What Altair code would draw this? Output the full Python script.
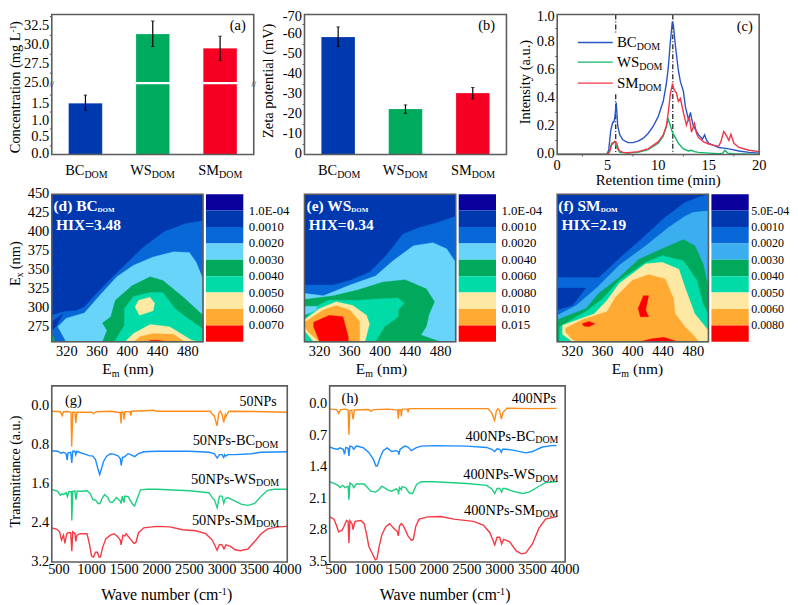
import altair as alt
import pandas as pd

# ---------------- data ----------------
CATS = ["BC", "WS", "SM"]
BAR_COLORS = ["#0038b0", "#00aa5e", "#f50023"]
CONC = [1.51, 31.43, 29.54]
CONC_LO = [1.30, 29.78, 27.93]
CONC_HI = [1.75, 33.16, 31.14]
ZETA = [-58.8, -22.8, -30.7]
ZETA_LO = [-54.0, -20.6, -27.8]
ZETA_HI = [-63.8, -24.8, -33.5]

C_BC = [(0,0),(4.9,0),(5.1,.03),(5.3,.17),(5.5,.23),(5.6,.23),(5.7,.26),(5.85,.37),(6,.2),(6.2,.14),(6.5,.105),(7,.085),(7.5,.085),(8,.095),(8.5,.115),(9,.15),(9.5,.2),(10,.27),(10.5,.38),(10.8,.5),(11,.62),(11.2,.8),(11.4,.95),(11.5,.93),(11.7,.78),(12,.6),(12.2,.52),(12.5,.45),(12.7,.34),(13,.25),(13.2,.3),(13.3,.26),(13.5,.2),(14,.14),(14.4,.11),(14.6,.14),(14.8,.1),(15,.08),(15.5,.065),(16,.05),(16.5,.045),(17,.04),(18,.025),(19,.015),(20,.01)]
C_WS = [(0,0),(5,0),(5.2,.03),(5.4,.08),(5.7,.09),(5.9,.05),(6.2,.015),(7,.01),(8,.015),(9,.035),(10,.08),(10.5,.13),(10.8,.2),(11,.25),(11.1,.23),(11.4,.16),(11.7,.12),(12,.08),(12.5,.04),(13,.025),(13.3,.03),(13.6,.02),(14,.015),(15,.01),(16,.005),(16.4,.01),(16.6,.03),(16.9,.01),(17.5,.005),(20,0)]
C_SM = [(0,0),(5,0),(5.2,.02),(5.4,.07),(5.7,.095),(5.9,.08),(6.1,.03),(6.5,.015),(7,.012),(8,.02),(9,.04),(10,.09),(10.5,.14),(10.8,.2),(11,.3),(11.2,.43),(11.4,.5),(11.6,.46),(11.8,.44),(12,.38),(12.2,.4),(12.5,.3),(12.8,.21),(13,.26),(13.1,.26),(13.3,.16),(13.6,.22),(13.8,.15),(14,.12),(14.5,.09),(15,.075),(15.5,.065),(16,.06),(16.2,.09),(16.5,.165),(16.8,.13),(17,.1),(17.2,.145),(17.5,.08),(18,.05),(19,.03),(20,.02)]

G_OR = [(390,.11),(520,.12),(550,.2),(570,.12),(620,.115),(660,.12),(685,.14),(695,.83),(712,.13),(745,.13),(758,.35),(775,.13),(1000,.13),(1030,.16),(1070,.12),(1300,.11),(1440,.14),(1452,.36),(1465,.12),(1490,.14),(1497,.28),(1510,.12),(1590,.12),(1602,.2),(1615,.11),(1800,.1),(1950,.09),(2000,.11),(2500,.11),(2820,.11),(2850,.17),(2880,.2),(2923,.41),(2950,.15),(2975,.11),(3000,.17),(3026,.34),(3050,.18),(3060,.22),(3085,.15),(3110,.11),(3500,.115),(4000,.13)]
G_BL = [(390,.92),(480,.93),(530,.97),(570,.95),(610,.98),(625,1.11),(640,.96),(680,.95),(697,1.17),(712,.93),(745,.93),(758,1.0),(775,.93),(830,.96),(900,.99),(960,1.02),(1020,1.03),(1060,1.1),(1100,1.3),(1125,1.41),(1150,1.3),(1180,1.15),(1230,1.03),(1290,.98),(1330,.99),(1400,1.02),(1440,1.08),(1455,1.22),(1475,1.05),(1500,1.05),(1560,.98),(1600,1.0),(1660,1.04),(1720,.98),(1800,.94),(2000,.93),(2500,.93),(2800,.95),(2880,.98),(2925,1.07),(2960,1.0),(3000,1.0),(3026,1.06),(3040,1.0),(3060,1.03),(3090,1.0),(3200,1.0),(3450,.98),(3600,.95),(4000,.94)]
G_GR = [(390,1.71),(480,1.75),(520,1.83),(545,1.8),(570,1.82),(610,1.78),(630,1.86),(650,1.76),(690,1.76),(697,2.35),(712,1.75),(745,1.74),(760,1.92),(780,1.75),(850,1.75),(930,1.74),(980,1.8),(1020,1.92),(1060,1.93),(1100,2.0),(1130,2.0),(1160,1.9),(1200,1.82),(1250,1.88),(1280,1.97),(1320,1.98),(1380,1.88),(1420,1.93),(1440,1.95),(1453,2.0),(1470,1.85),(1497,1.98),(1510,1.85),(1560,1.86),(1620,2.0),(1660,2.05),(1700,1.9),(1750,1.72),(1850,1.71),(2000,1.71),(2500,1.74),(2800,1.78),(2850,1.88),(2885,1.93),(2925,2.09),(2960,1.85),(3000,1.85),(3026,2.0),(3050,1.9),(3090,1.88),(3200,1.95),(3300,2.02),(3400,2.04),(3500,2.0),(3600,1.85),(3700,1.73),(3800,1.71),(4000,1.71)]
G_RD = [(390,2.5),(470,2.53),(510,2.58),(540,2.75),(570,2.65),(590,2.82),(620,2.62),(640,2.6),(680,2.6),(697,2.98),(712,2.58),(745,2.62),(758,2.78),(775,2.65),(830,2.62),(930,2.62),(970,2.85),(1000,3.08),(1030,3.1),(1060,3.0),(1090,3.0),(1115,3.1),(1135,3.1),(1170,2.9),(1220,2.72),(1290,2.65),(1350,2.62),(1400,2.68),(1440,2.75),(1453,2.85),(1480,2.65),(1510,2.67),(1530,2.62),(1590,2.72),(1650,2.82),(1680,2.8),(1720,2.6),(1800,2.5),(2000,2.47),(2200,2.48),(2400,2.54),(2600,2.56),(2750,2.62),(2850,2.75),(2925,2.96),(2960,2.84),(3000,2.85),(3030,2.93),(3060,2.85),(3130,2.88),(3200,2.95),(3280,2.97),(3400,2.93),(3500,2.78),(3600,2.62),(3700,2.52),(3850,2.48),(4000,2.47)]

H_OR = [(403,.11),(510,.12),(540,.2),(570,.12),(650,.11),(685,.13),(697,.68),(712,.14),(740,.13),(760,.34),(780,.13),(1000,.12),(1030,.16),(1070,.12),(1300,.11),(1440,.13),(1452,.32),(1465,.12),(1490,.13),(1497,.27),(1510,.11),(1590,.11),(1600,.18),(1615,.1),(1800,.1),(2500,.1),(2820,.1),(2860,.16),(2880,.2),(2923,.36),(2950,.15),(2975,.1),(3000,.15),(3026,.33),(3050,.18),(3085,.13),(3110,.09),(3500,.1),(4000,.09)]
H_BL = [(403,.95),(480,.99),(530,1.0),(560,.97),(610,1.0),(630,1.11),(650,.96),(685,.98),(697,1.15),(712,.93),(745,.94),(770,1.0),(810,.93),(850,.94),(920,.97),(1000,1.07),(1070,1.22),(1110,1.37),(1130,1.37),(1170,1.2),(1220,1.03),(1280,.97),(1350,1.05),(1420,1.03),(1450,1.05),(1460,1.12),(1480,1.0),(1550,.93),(1600,.95),(1650,1.03),(1720,.97),(1800,.93),(2000,.92),(2500,.93),(2800,.96),(2880,1.0),(2925,1.05),(2960,.99),(3000,1.0),(3026,1.07),(3045,1.0),(3090,1.0),(3200,1.02),(3400,1.08),(3500,1.05),(3650,.95),(3800,.92),(4000,.91)]
H_GR = [(403,1.72),(480,1.76),(530,1.8),(560,1.85),(600,1.8),(640,1.85),(685,1.82),(697,2.12),(712,1.75),(745,1.78),(770,1.85),(810,1.77),(930,1.77),(980,1.85),(1030,1.93),(1100,1.95),(1140,1.92),(1200,1.82),(1290,1.9),(1350,1.93),(1420,1.88),(1450,1.92),(1455,2.0),(1470,1.85),(1497,1.9),(1510,1.83),(1560,1.85),(1620,1.97),(1670,1.98),(1730,1.78),(1800,1.72),(2000,1.72),(2500,1.76),(2800,1.8),(2880,1.88),(2925,1.98),(2960,1.87),(3000,1.87),(3030,1.95),(3050,1.87),(3090,1.87),(3200,1.93),(3350,1.98),(3450,1.95),(3600,1.82),(3700,1.74),(3850,1.72),(4000,1.72)]
H_RD = [(403,2.5),(470,2.55),(510,2.7),(540,2.83),(590,2.8),(620,2.72),(660,2.58),(685,2.6),(697,3.08),(712,2.58),(745,2.65),(760,2.78),(790,2.6),(880,2.58),(930,2.65),(970,2.9),(1000,3.15),(1050,3.3),(1100,3.45),(1125,3.43),(1160,3.15),(1200,2.9),(1260,2.72),(1320,2.65),(1380,2.75),(1440,2.83),(1452,2.92),(1470,2.7),(1500,2.65),(1530,2.7),(1600,2.92),(1650,3.02),(1680,3.0),(1720,2.7),(1770,2.55),(1900,2.5),(2100,2.49),(2300,2.55),(2600,2.6),(2750,2.68),(2850,2.85),(2925,3.12),(2960,2.95),(3000,2.95),(3030,3.1),(3060,3.0),(3150,3.05),(3250,3.25),(3330,3.32),(3400,3.3),(3500,3.1),(3600,2.75),(3700,2.55),(3850,2.5),(4000,2.48)]

L0, L1, L2, L3, L4, L5, L6, L7, L8 = "#0a009c", "#0038b0", "#0868d8", "#68d4fa", "#00a95c", "#00dba8", "#fde9a4", "#ffab33", "#ff0000"
L3F = "#3aaeee"
BAND_D = [L0, L1, L2, L3, L4, L5, L6, L7, L8]
BAND_F = [L0, L1, L2, L3F, L4, L5, L6, L7, L8]
LABELS_D = ["1.0E-04","0.0010","0.0020","0.0030","0.0040","0.0050","0.0060","0.0070"]
LABELS_E = ["1.0E-04","0.0010","0.0020","0.0040","0.0060","0.0080","0.010","0.015"]
LABELS_F = ["5.0E-04","0.0010","0.0020","0.0030","0.0040","0.0050","0.0060","0.0080"]

POLY_D = [
 (L2, [(300,290),(317,295),(332,296),(343,301),(365,325),(391,351),(421,380),(448,400),(476,411),(500,415),(500,255),(300,255)]),
 (L1, [(300,282),(315,292),(306,276),(300,270)]),
 (L4, [(300,262),(303,262),(304,255),(300,255)]),
 (L3, [(308,275),(319,286),(343,293),(365,318),(386,341),(408,356),(434,367),(461,374),(482,373),(491,360),(500,338),(500,255),(319,255)]),
 (L4, [(367,280),(378,288),(384,310),(406,329),(430,341),(447,336),(474,314),(500,290),(500,255),(367,255),(373,270)]),
 (L5, [(384,257),(396,277),(396,299),(408,315),(430,320),(447,320),(463,299),(477,288),(500,272),(500,255),(381,255)]),
 (L6, [(410,301),(415,310),(430,314),(436,306),(434,296),(416,290)]),
 (L6, [(397,255),(408,266),(430,278),(456,275),(485,257),(496,255)]),
 (L7, [(408,255),(417,262),(434,266),(461,265),(476,255)]),
 (L8, [(428,255),(430,257),(440,257),(456,255)]),
]
POLY_E = [
 (L2, [(300,330),(338,330),(360,336),(386,347),(408,369),(430,397),(452,406),(474,412),(500,421),(500,255),(300,255)]),
 (L3, [(300,319),(325,316),(360,330),(394,342),(417,362),(444,382),(470,386),(488,378),(500,360),(500,255),(300,255)]),
 (L4, [(300,311),(338,316),(369,323),(404,334),(433,337),(461,325),(472,308),(465,292),(461,275),(454,264),(474,257),(481,255),(300,255)]),
 (L5, [(316,302),(331,310),(369,310),(400,312),(424,313),(432,306),(424,297),(424,288),(406,275),(395,257),(393,255),(300,255),(300,285)]),
 (L3, [(300,302),(316,302),(316,297),(300,290)]),
 (L6, [(300,284),(320,299),(342,308),(364,303),(382,290),(386,279),(380,255),(312,255),(300,270)]),
 (L7, [(300,281),(325,297),(342,303),(360,297),(373,282),(373,257),(371,255),(320,255),(305,268),(300,275)]),
 (L8, [(312,281),(333,290),(351,288),(358,261),(358,255),(320,255),(312,275)]),
]
POLY_F = [
 (L2, [(300,340),(355,340),(382,365),(414,393),(442,419),(469,439),(487,446),(500,450),(500,255),(300,255)]),
 (L1, [(300,326),(338,326),(320,303),(300,297)]),
 (L3F, [(300,290),(325,303),(353,327),(382,356),(417,382),(447,406),(469,421),(480,426),(500,428),(500,255),(300,255)]),
 (L4, [(300,284),(338,299),(355,319),(382,340),(408,364),(439,378),(467,390),(482,382),(493,358),(500,327),(500,255),(300,255)]),
 (L5, [(303,275),(338,295),(360,312),(382,336),(417,360),(439,369),(467,362),(485,336),(493,305),(500,292),(500,255),(303,255)]),
 (L6, [(307,277),(349,292),(366,310),(382,332),(417,358),(439,360),(461,351),(469,327),(482,292),(500,270),(500,255),(320,255),(307,265)]),
 (L7, [(311,273),(333,284),(366,295),(377,314),(399,336),(421,344),(443,338),(454,312),(456,292),(469,275),(482,262),(487,255),(327,255),(320,258),(311,268)]),
 (L8, [(333,279),(342,282),(350,279),(342,275),(335,276)]),
 (L8, [(414,316),(421,316),(417,297),(421,288),(410,288),(407,299)]),
 (L8, [(408,255),(425,259),(441,261),(460,255)]),
]

# ---------------- helpers ----------------
FONT = "Liberation Serif"
GRAY = "#5c5c5c"
TICK = 14.5
ONE = pd.DataFrame({"a": [0]})


def txt(text, x, y, size=TICK, align="left", angle=0, weight="normal", color="black", baseline="alphabetic"):
    return alt.Chart(ONE).mark_text(text=text, fontSize=size, align=align, angle=angle, fontWeight=weight,
                                    color=color, baseline=baseline, font=FONT).encode(
        x=alt.value(x), y=alt.value(y))


def frame(w, top, h, dx=0):
    return alt.Chart(ONE).mark_rect(fillOpacity=0, stroke=GRAY, strokeWidth=1.6).encode(
        x=alt.value(dx), x2=alt.value(dx + w), y=alt.value(top), y2=alt.value(top + h))


def minor_y(vals, ys):
    df = pd.DataFrame({"v": vals})
    return alt.Chart(df).mark_rule(color=GRAY, strokeWidth=1).encode(
        x=alt.value(-2), x2=alt.value(0), y=alt.Y("v:Q", scale=ys, axis=None))


def minor_x(vals, xs, bottom):
    df = pd.DataFrame({"v": vals})
    return alt.Chart(df).mark_rule(color=GRAY, strokeWidth=1).encode(
        y=alt.value(bottom), y2=alt.value(bottom + 2), x=alt.X("v:Q", scale=xs, axis=None))


def ytext(vals, fmt, ys, left=0.0, right=-2.5, dy=0):
    labs = [fmt(v) for v in vals]
    df = pd.DataFrame({"v": vals, "t": labs})
    return alt.Chart(df).mark_text(align="right", baseline="middle", fontSize=TICK, font=FONT, color="black", dy=dy).encode(
        x=alt.value(left + right), y=alt.Y("v:Q", scale=ys, axis=None), text="t:N")


def xtext(vals, xs, ypix):
    df = pd.DataFrame({"v": vals, "t": [str(v) for v in vals]})
    return alt.Chart(df).mark_text(align="center", baseline="middle", fontSize=TICK, font=FONT, color="black").encode(
        x=alt.X("v:Q", scale=xs, axis=None), y=alt.value(ypix), text="t:N")


def base(xfield, xs, xaxis, ys, yaxis, xval, yval):
    df = pd.DataFrame({"x": [xval], "y": [yval]})
    xenc = alt.X("x:%s" % xfield, scale=xs, title=None)
    xenc = xenc.axis(xaxis) if xaxis is not None else xenc.axis(None)
    return alt.Chart(df).mark_point(opacity=0).encode(
        x=xenc, y=alt.Y("y:Q", scale=ys, axis=yaxis, title=None))


def yaxis(values, tick=2.5, offset=0):
    return alt.Axis(values=values, labels=False, domain=False, grid=False, tickColor=GRAY, tickSize=tick, tickWidth=1,
                    offset=offset)


def xaxis(values, tick=2.5):
    return alt.Axis(values=values, labels=False, domain=False, grid=False, tickColor=GRAY, tickSize=tick, tickWidth=1)


def line(points, color, xs, ys, width=1.4):
    df = pd.DataFrame(points, columns=["x", "y"])
    return alt.Chart(df).mark_line(color=color, strokeWidth=width, clip=True).encode(
        x=alt.X("x:Q", scale=xs, axis=None), y=alt.Y("y:Q", scale=ys, axis=None))


def sub_label(main, jx, by, size=TICK, sub="DOM", subsize=10, subdy=2.3, weight="normal", color="black"):
    return [txt(main, jx, by, size=size, align="right", weight=weight, color=color),
            txt(sub, jx, by + subdy, size=subsize, align="left", weight=weight, color=color)]


f1 = lambda v: "%.1f" % v
fd = lambda v: "%d" % v

# ---------------- row 1 ----------------
W1, H1, T1 = 203.0, 140.7, 0.0
CELL_A, CELL_B = 254.0, 253.0
A = lambda absy: absy - 13.0  # page y -> local y in row 1
TITLE_X = -31.5


def bar_panel(vals, lo, hi, ys, ya, yt, extra, letter, lx, ytitle_layers, cell):
    xs = alt.Scale(type="band", domain=CATS, range=[0, W1], paddingInner=0.5, paddingOuter=0.25)
    df = pd.DataFrame({"c": CATS, "v": vals, "z": [0] * 3, "lo": lo, "hi": hi, "col": BAR_COLORS})
    X = alt.X("c:N", scale=xs, axis=None, sort=CATS, title=None)
    bars = alt.Chart(df).mark_bar(stroke="#ffffff", strokeOpacity=0.35, strokeWidth=0.6).encode(
        x=X, y=alt.Y("v:Q", scale=ys, axis=None), y2="z:Q", color=alt.Color("col:N", scale=None))
    err = alt.Chart(df).mark_rule(color="black", strokeWidth=1.2).encode(
        x=X, y=alt.Y("lo:Q", scale=ys, axis=None), y2="hi:Q")
    t1 = alt.Chart(df).mark_tick(color="black", size=3.5, thickness=1).encode(
        x=X, y=alt.Y("lo:Q", scale=ys, axis=None))
    t2 = alt.Chart(df).mark_tick(color="black", size=3.5, thickness=1).encode(
        x=X, y=alt.Y("hi:Q", scale=ys, axis=None))
    layers = [base("N", xs, None, ys, ya, "BC", vals[0])] + yt + [bars] + extra + [err, t1, t2, frame(W1, T1, H1)]
    for i, c in enumerate(CATS):
        layers += sub_label(c, (i + 0.5) * W1 / 3 - 1, H1 + 21, size=TICK)
    layers.append(txt(letter, lx, A(25), align="center", baseline="middle", size=TICK))
    layers += ytitle_layers
    return alt.layer(*layers).properties(width=cell, height=H1)


A_T = [0, .5, 1, 1.5, 25, 27.5, 30, 32.5]
ys_a = alt.Scale(domain=[0, 2.05, 24.8, 34.02], range=[H1, H1 * 0.5 + 0.4, H1 * 0.5 - 0.4, 0], nice=False, zero=False)
gap_df = pd.DataFrame({"v": [24.92]})
gap = alt.Chart(gap_df).mark_rule(color="white", strokeWidth=2.2).encode(
    x=alt.value(0), x2=alt.value(W1), y=alt.Y("v:Q", scale=ys_a, axis=None))
conc_title = [txt("Concentration (mg L", TITLE_X, A(31), size=14.5, align="right", angle=270),
              txt("-1", TITLE_X - 4.5, A(31), size=9, align="left", angle=270),
              txt(")", TITLE_X, A(24.5), size=14.5, align="left", angle=270)]
breaks = [txt("//", 0, H1 * 0.5, size=9, align="center", baseline="middle", color="#333333"),
          txt("//", W1, H1 * 0.5, size=9, align="center", baseline="middle", color="#333333")]
panel_a = bar_panel(CONC, CONC_LO, CONC_HI, ys_a, yaxis(A_T), [ytext(A_T, f1, ys_a)],
                    [gap, minor_y([.25, .75, 1.25, 1.75, 26.25, 28.75, 31.25, 33.75], ys_a)],
                    "(a)", 187, conc_title + breaks, CELL_A)

B_T = list(range(-60, 1, 10))
B_TOP = [-70]
ys_b = alt.Scale(domain=[0, -70], range=[H1, 0], nice=False, zero=False)
zeta_title = [txt("Zeta potential  (mV)", TITLE_X, A(79.7), size=14.5, align="center", angle=270)]
panel_b = bar_panel(ZETA, ZETA_LO, ZETA_HI, ys_b, yaxis(B_TOP + B_T), [ytext(B_T, fd, ys_b), ytext(B_TOP, fd, ys_b, dy=3)],
                    [minor_y([-5, -15, -25, -35, -45, -55, -65], ys_b)],
                    "(b)", 183, zeta_title, CELL_B)

xs_c = alt.Scale(domain=[0, 20], range=[0, W1], nice=False, zero=False)
ys_c = alt.Scale(domain=[0, 1], range=[H1, 0], nice=False, zero=False)
vl_a = pd.DataFrame({"x": [5.8, 5.8], "y": [1, .87]})
vl_b = pd.DataFrame({"x": [5.8, 5.8], "y": [.43, 0]})
vl_c = pd.DataFrame({"x": [11.45, 11.45], "y": [1, 0]})


def vdash(df):
    return alt.Chart(df).mark_line(color="black", strokeWidth=1.1, strokeDash=[5, 2, 1, 2]).encode(
        x=alt.X("x:Q", scale=xs_c, axis=None), y=alt.Y("y:Q", scale=ys_c, axis=None))


C_LEG_X = [2.04, 5.5]
C_LEG_Y = [.8, .66, .51]
C_LEG_J = [80, 82.5, 81.7]
C_COL = ["#2a55c8", "#10b868", "#f0354a"]
C_XT = [0, 5, 10, 15, 20]
C_YT = [0, .2, .4, .6, .8]
C_YTOP = [1]
c_layers = [base("Q", xs_c, xaxis(C_XT), ys_c, yaxis(C_YT + C_YTOP), 1, 0.5), ytext(C_YT, f1, ys_c),
            ytext(C_YTOP, f1, ys_c, dy=3), xtext(C_XT, xs_c, H1 + 12)]
c_layers += [minor_y([.1, .3, .5, .7, .9], ys_c), minor_x([2.5, 7.5, 12.5, 17.5], xs_c, H1)]
c_layers += [vdash(vl_a), vdash(vl_b), vdash(vl_c)]
c_layers += [line(C_BC, C_COL[0], xs_c, ys_c), line(C_WS, C_COL[1], xs_c, ys_c), line(C_SM, C_COL[2], xs_c, ys_c)]
for yv, col, c, j in zip(C_LEG_Y, C_COL, CATS, C_LEG_J):
    c_layers.append(line([(C_LEG_X[0], yv), (C_LEG_X[1], yv)], col, xs_c, ys_c, width=1.4))
    by = H1 * (1 - yv) + 5
    c_layers += sub_label(c, j, by, size=15, subdy=3)
c_layers.append(txt("(c)", 188.5, A(26), align="center", baseline="middle"))
c_layers.append(txt("Intensity (a.u.)", -27.7, A(81), size=14.5, align="center", angle=270))
c_layers.append(txt("Retention time (min)", 101.5, H1 + 31, size=15, align="center"))
c_layers.append(frame(W1, T1, H1))
panel_c = alt.layer(*c_layers).properties(width=W1, height=H1)

# ---------------- row 2 ----------------
W2, H2, GAP2 = 152.0, 148.4, 39.6
BAND_N = 9
EX0, EX1 = 255.0, 450.0
EM_T = [320, 360, 400, 440, 480]
EX_T = [275, 300, 325, 350, 375, 400, 425, 450]


def contour(polys, bands, labels, bg, title, jx, hix, em_j, cell, first, lab_size=12.8, lab_gap=46):
    xs = alt.Scale(domain=[300, 500], range=[0, W2], nice=False, zero=False)
    ys = alt.Scale(domain=[EX0, EX1], range=[GAP2 + H2, GAP2], nice=False, zero=False)
    layers = [base("Q", xs, xaxis(EM_T), ys, yaxis(EX_T), 400, 300), xtext(EM_T, xs, GAP2 + H2 + 10)]
    if first:
        layers.append(ytext(EX_T, fd, ys))
    layers.append(alt.Chart(pd.DataFrame({"x": [300, 300, 500, 500, 300], "y": [255, 450, 450, 255, 255], "i": range(5)}))
                  .mark_line(fill=bg, stroke=bg, strokeWidth=0.1).encode(
        x=alt.X("x:Q", scale=xs, axis=None), y=alt.Y("y:Q", scale=ys, axis=None), order="i:Q"))
    for col, pts in polys:
        pts = list(pts) + [pts[0]]
        df = pd.DataFrame(pts, columns=["x", "y"])
        df["i"] = range(len(df))
        layers.append(alt.Chart(df).mark_line(fill=col, stroke=col, strokeWidth=0.3).encode(
            x=alt.X("x:Q", scale=xs, axis=None), y=alt.Y("y:Q", scale=ys, axis=None), order="i:Q"))
    step = (EX1 - EX0) / BAND_N
    rows = [{"hi": EX1 - i * step, "lo": EX1 - (i + 1) * step, "col": bands[i]} for i in range(BAND_N)]
    cb = pd.DataFrame(rows)
    layers.append(alt.Chart(cb).mark_rect().encode(
        x=alt.value(W2 + 3), x2=alt.value(W2 + 40.5),
        y=alt.Y("hi:Q", scale=ys, axis=None), y2="lo:Q", color=alt.Color("col:N", scale=None)))
    lab = pd.DataFrame({"t": labels, "v": [EX1 - (i + 1) * step for i in range(8)]})
    layers.append(alt.Chart(lab).mark_text(align="left", baseline="middle", fontSize=lab_size, font=FONT, color="black").encode(
        x=alt.value(W2 + lab_gap), y=alt.Y("v:Q", scale=ys, axis=None), text="t:N"))
    layers += sub_label(title, jx, GAP2 + 17.3, size=15.5, subsize=7, subdy=0.5, weight="bold", color="white")
    layers.append(txt(hix, 4.3, GAP2 + 35.7, size=15.5, weight="bold", color="white"))
    by = GAP2 + H2 + 32.3
    layers.append(txt("E", em_j, by, size=15.5, align="right"))
    layers.append(txt("m", em_j, by + 3, size=10))
    layers.append(txt("(nm)", em_j + 12, by, size=15.5))
    if first:
        layers.append(txt("E", TITLE_X, 123, size=14.5, align="right", angle=270))
        layers.append(txt("x", TITLE_X + 3, 123, size=10, align="left", angle=270))
        layers.append(txt("(nm)", TITLE_X, 115, size=14.5, align="left", angle=270))
    layers.append(frame(W2, GAP2, H2))
    return alt.layer(*layers).properties(width=cell, height=GAP2 + H2)


panel_d = contour(POLY_D, BAND_D, LABELS_D, L1, "(d) BC", 46, "HIX=3.48", 60.3, 254.0, True)
panel_e = contour(POLY_E, BAND_D, LABELS_E, L1, "(e) WS", 47, "HIX=0.34", 61, 253.3, False)
panel_f = contour(POLY_F, BAND_F, LABELS_F, L1, "(f) SM", 43.7, "HIX=2.19", 64.3, 225.0, False, lab_size=12, lab_gap=43)

# ---------------- row 3 ----------------
W3, H3, GAP3 = 236.7, 177.0, 44.3
FT_COL = ["#ff8c1a", "#1a8cff", "#1ccf80", "#f53a46"]
FT_XT = list(range(500, 4001, 500))


def ftir(series, x0, yd, yvals, names, name_ends, letter, letter_xy, cell, title_j, first, dx=0.0):
    xs = alt.Scale(domain=[x0, 4000], range=[dx, dx + W3], nice=False, zero=False)
    ys = alt.Scale(domain=yd, range=[GAP3, GAP3 + H3], nice=False, zero=False)
    layers = [base("Q", xs, xaxis(FT_XT), ys, yaxis(yvals, offset=-dx), 2000, 1),
              ytext(yvals, f1, ys, left=dx), xtext(FT_XT, xs, GAP3 + H3 + 8)]
    for s, c in zip(series, FT_COL):
        layers.append(line(s, c, xs, ys))
    sx = lambda v: dx + (v - x0) / (4000 - x0) * W3
    sy = lambda v: GAP3 + (v - yd[0]) / (yd[1] - yd[0]) * H3
    lab0, labs = names
    layers.append(txt(lab0, sx(name_ends[0][0]), sy(name_ends[0][1]), size=14, align="right"))
    for (nm, (xv, yv)) in zip(labs, name_ends[1:]):
        layers += sub_label(nm, sx(xv), sy(yv), size=14.5, subdy=2.5)
    layers.append(txt(letter, sx(letter_xy[0]), sy(letter_xy[1]), align="center", baseline="middle"))
    by = GAP3 + H3 + 38.5
    layers.append(txt("Wave number (cm", dx + title_j, by, size=16, align="right"))
    layers.append(txt("-1", dx + title_j, by - 5.5, size=10))
    layers.append(txt(")", dx + title_j + 8.5, by, size=16))
    if first:
        layers.append(txt("Transmittance (a.u.)", TITLE_X, GAP3 + 86, size=14, align="center", angle=270))
    layers.append(frame(W3, GAP3, H3, dx))
    return alt.layer(*layers).properties(width=cell, height=GAP3 + H3)


panel_g = ftir([G_OR, G_BL, G_GR, G_RD], 390, [-0.41, 3.2], [0, .8, 1.6, 2.4, 3.2],
               ("50NPs", ["50NPs-BC", "50NPs-WS", "50NPs-SM"]),
               [(3838, 0), (3507, .81), (3520, 1.6), (3520, 2.44)], "(g)", (720, -.11), 254.0, 167.5, True)
panel_h = ftir([H_OR, H_BL, H_GR, H_RD], 403, [-0.405, 3.5], [0, .7, 1.4, 2.1, 2.8, 3.5],
               ("400NPs", ["400NPs-BC", "400NPs-WS", "400NPs-SM"]),
               [(3858, -.02), (3543, .81), (3543, 1.66), (3543, 2.45)], "(h)", (714, -.11), 253.3, 168, False, dx=25.3)

chart = alt.concat(panel_a, panel_b, panel_c, panel_d, panel_e, panel_f, panel_g, panel_h,
                   columns=3, spacing=0, bounds="flush", align="none").properties(
    padding={"left": 0, "top": 0, "right": 0, "bottom": 0}
).configure_view(stroke=None)

chart.save("out.html", embed_options={"renderer": "svg", "actions": False})
